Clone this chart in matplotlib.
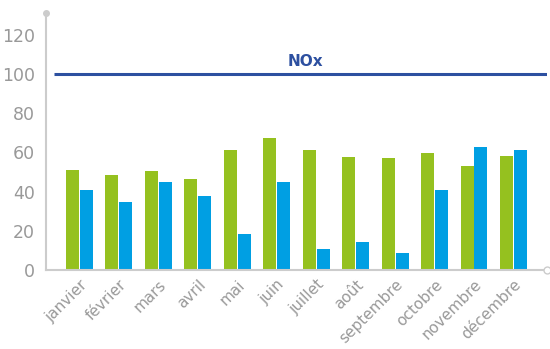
import matplotlib.pyplot as plt
import numpy as np

months = ["janvier", "février", "mars", "avril", "mai", "juin", "juillet",
          "août", "septembre", "octobre", "novembre", "décembre"]
green_vals = [50.8, 48.2, 50.3, 46.2, 61.0, 67.1, 61.4, 57.4, 56.9, 59.4, 52.8, 58.0]
blue_vals = [41.0, 34.4, 44.6, 37.5, 18.1, 44.6, 10.5, 14.5, 8.9, 41.0, 62.5, 61.4]
limit_value = 100
limit_label = "NOx"
yticks = [0, 20, 40, 60, 80, 100, 120]

plt.rcParams['font.family'] = ['DejaVu Sans']

fig = plt.figure(figsize=(5.5, 3.49), dpi=100)
ax = fig.add_axes([0.0836, 0.2264, 0.9109, 0.7364])

x = np.arange(len(months))
w = 0.33
ax.bar(x - w / 2 - 0.012, green_vals, width=w, color="#95c11f", zorder=2)
ax.bar(x + w / 2 + 0.012, blue_vals, width=w, color="#009fe3", zorder=2)

ax.set_xlim(-0.85, 11.85)
ax.set_ylim(0, 131)

# limit line
ax.plot([-0.65, 11.85], [limit_value, limit_value], color="#2d50a0", lw=2.2,
        zorder=3, solid_capstyle="butt")
ax.text(5.72, limit_value + 4, limit_label, color="#2d50a0", fontsize=11,
        fontweight="bold", ha="center", va="baseline")

for s in ["top", "right"]:
    ax.spines[s].set_visible(False)
ax.spines["left"].set_color("#cccccc")
ax.spines["bottom"].set_color("#cccccc")
ax.spines["left"].set_linewidth(1.5)
ax.spines["bottom"].set_linewidth(1.5)

ax.plot([0], [1], marker="o", ms=4, color="#cccccc", transform=ax.transAxes,
        clip_on=False, zorder=4)
ax.plot([1], [0], marker="o", ms=5, mfc="white", mec="#cccccc", mew=1,
        transform=ax.transAxes, clip_on=False, zorder=4)

ax.set_yticks(yticks)
ax.set_yticklabels([str(t) for t in yticks])
ax.set_xticks(x)
ax.set_xticklabels(months, rotation=45, ha="right", rotation_mode="anchor")
ax.tick_params(axis="both", length=0, colors="#999999")
ax.tick_params(axis="x", labelsize=11, pad=5)
ax.tick_params(axis="y", pad=8, labelsize=12.5)

fig.savefig("out.png", dpi=100)
